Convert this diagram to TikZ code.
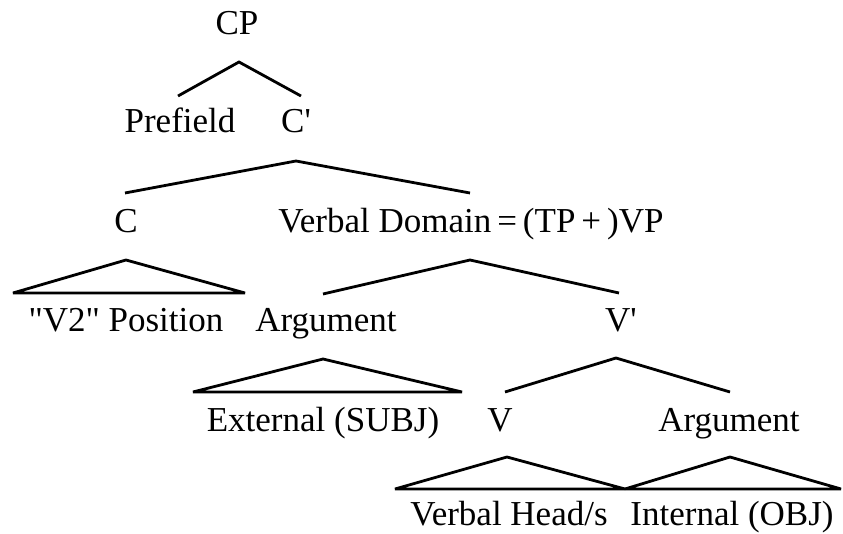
\documentclass[tikz,border=0pt]{standalone}
\usepackage{fontspec}
\newfontfamily\treefont{Liberation Serif}
\begin{document}
\begin{tikzpicture}[x=1pt,y=-1pt,
  lbl/.style={anchor=base,inner sep=0pt,font=\treefont\fontsize{35}{40}\selectfont},
  branch/.style={line width=2.8pt,line join=miter},
  roof/.style={line width=2.8pt,line join=bevel}]
\useasboundingbox (0,0) rectangle (843,534);

% labels
\node[lbl] (cp)   at (237,35)  {CP};
\node[lbl] (pre)  at (180,133) {Prefield};
\node[lbl] (cbar) at (296,133) {C'};
\node[lbl] (c)    at (126,233) {C};
\node[lbl] (vd)   at (471,233) {Verbal Domain\hspace{0.17em}=\hspace{0.17em}(TP\hspace{0.17em}+\hspace{0.17em})VP};
\node[lbl] (v2)   at (126,332) {"V2" Position};
\node[lbl] (arg1) at (326,332) {Argument};
\node[lbl] (vbar) at (621,332) {V'};
\node[lbl] (ext)  at (323,431) {External (SUBJ)};
\node[lbl] (v)    at (500,431) {V};
\node[lbl] (arg2) at (729,431) {Argument};
\node[lbl] (head) at (509,525) {Verbal Head/s};
\node[lbl] (int)  at (732,525) {Internal (OBJ)};

% branch points
\coordinate (cpA) at (239,62);  \coordinate (cpL) at (178,96);  \coordinate (cpR) at (301,96);
\coordinate (cbA) at (296,161); \coordinate (cbL) at (125,193); \coordinate (cbR) at (470,193);
\coordinate (vdA) at (470,260); \coordinate (vdL) at (323,294); \coordinate (vdR) at (619,293);
\coordinate (vbA) at (616,358); \coordinate (vbL) at (505,392); \coordinate (vbR) at (730,392);

% roof points
\coordinate (cT)  at (126,260); \coordinate (cBL)  at (13,293);  \coordinate (cBR)  at (245,293);
\coordinate (a1T) at (323,359); \coordinate (a1BL) at (193,392); \coordinate (a1BR) at (462,392);
\coordinate (vT)  at (507,457); \coordinate (vBL)  at (395,489); \coordinate (vBR)  at (625,489);
\coordinate (a2T) at (730,457); \coordinate (a2BL) at (625,489); \coordinate (a2BR) at (841,489);

% branches
\draw[branch] (cpL) -- (cpA) -- (cpR);
\draw[branch] (cbL) -- (cbA) -- (cbR);
\draw[branch] (vdL) -- (vdA) -- (vdR);
\draw[branch] (vbL) -- (vbA) -- (vbR);

% roofs
\draw[roof] (cT) -- (cBL) -- (cBR) -- cycle;
\draw[roof] (a1T) -- (a1BL) -- (a1BR) -- cycle;
\draw[roof] (vT) -- (vBL) -- (vBR) -- cycle;
\draw[roof] (a2T) -- (a2BL) -- (a2BR) -- cycle;
\end{tikzpicture}
\end{document}
